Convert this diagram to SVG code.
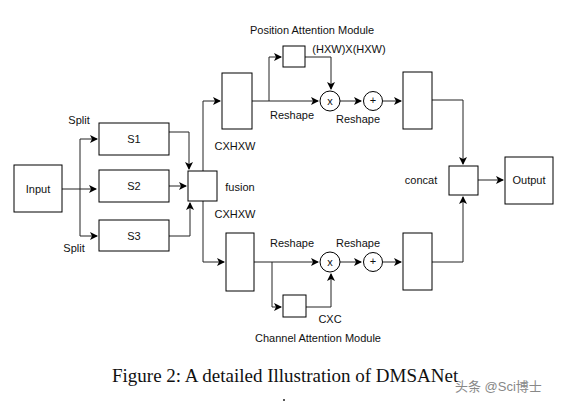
<svg xmlns="http://www.w3.org/2000/svg" width="563" height="405" viewBox="0 0 563 405">
<defs>
<marker id="ah" markerWidth="8" markerHeight="8" refX="7" refY="4" orient="auto" markerUnits="userSpaceOnUse">
<path d="M0,0 L8,4 L0,8 L2,4 Z" fill="#000"/>
</marker>
<style>
.box{fill:#fff;stroke:#000;stroke-width:1}
.ln{fill:none;stroke:#222;stroke-width:1}
.t{font-family:"Liberation Sans",Arial,sans-serif;font-size:11px;fill:#111;text-anchor:middle;dominant-baseline:central}
</style>
</defs>
<rect width="563" height="405" fill="#fff"/>
<g id="connectors">
<path class="ln" d="M62,189 H96" stroke-width="2" marker-end="url(#ah)"/>
<path class="ln" d="M80,189 V139 H97" marker-end="url(#ah)"/>
<path class="ln" d="M80,189 V236 H97" marker-end="url(#ah)"/>
<path class="ln" d="M169,132 H189 V169" marker-end="url(#ah)"/>
<path class="ln" d="M169,186 H186" marker-end="url(#ah)"/>
<path class="ln" d="M169,236 H190 V203" marker-end="url(#ah)"/>
<path class="ln" d="M203,171 V101 H220" marker-end="url(#ah)"/>
<path class="ln" d="M203,201 V262 H224" marker-end="url(#ah)"/>
<path class="ln" d="M252,101 H318" marker-end="url(#ah)"/>
<path class="ln" d="M269,101 V57 H281" marker-end="url(#ah)"/>
<path class="ln" d="M305,57 H331 V89" marker-end="url(#ah)"/>
<path class="ln" d="M340,101 H361" marker-end="url(#ah)"/>
<path class="ln" d="M383,101 H401" marker-end="url(#ah)"/>
<path class="ln" d="M254,262 H318" marker-end="url(#ah)"/>
<path class="ln" d="M272,262 V307 H281" marker-end="url(#ah)"/>
<path class="ln" d="M306,307 H331 V274" marker-end="url(#ah)"/>
<path class="ln" d="M340,262 H361" marker-end="url(#ah)"/>
<path class="ln" d="M383,262 H401" marker-end="url(#ah)"/>
<path class="ln" d="M432,100 H463 V164" marker-end="url(#ah)"/>
<path class="ln" d="M432,262 H463 V197" marker-end="url(#ah)"/>
<path class="ln" d="M478,180 H503" marker-end="url(#ah)"/>
</g>
<g id="input"><rect class="box" x="14" y="165" width="48" height="47"/><text class="t" x="38" y="189">Input</text></g>
<g id="s1"><rect class="box" x="99" y="123" width="70" height="32"/><text class="t" x="134" y="139">S1</text></g>
<g id="s2"><rect class="box" x="99" y="170" width="70" height="32"/><text class="t" x="134" y="186">S2</text></g>
<g id="s3"><rect class="box" x="99" y="220" width="70" height="31"/><text class="t" x="134" y="236">S3</text></g>
<g id="split-labels"><text class="t" x="79" y="120">Split</text><text class="t" x="74" y="248">Split</text></g>
<g id="fusion"><rect class="box" x="188" y="171" width="29" height="30"/><text class="t" x="240" y="187">fusion</text></g>
<g id="dims"><text class="t" x="235" y="146">CXHXW</text><text class="t" x="235" y="214">CXHXW</text></g>
<g id="pam-label"><text class="t" x="312" y="30">Position Attention Module</text></g>
<g id="pam-in"><rect class="box" x="222" y="73" width="30" height="56"/></g>
<g id="pam-small"><rect class="box" x="283" y="46" width="22" height="21"/><text class="t" x="349" y="49">(HXW)X(HXW)</text></g>
<g id="pam-mul"><circle class="box" cx="330" cy="101" r="10"/><text class="t" x="330" y="101" font-size="9">x</text></g>
<g id="pam-add"><circle class="box" cx="373" cy="101" r="9.5"/><text class="t" x="373" y="100" font-size="9">+</text></g>
<g id="pam-reshape"><text class="t" x="292" y="115">Reshape</text><text class="t" x="358" y="119">Reshape</text></g>
<g id="pam-out"><rect class="box" x="403" y="72" width="29" height="57"/></g>
<g id="cam-in"><rect class="box" x="226" y="233" width="28" height="58"/></g>
<g id="cam-small"><rect class="box" x="283" y="295" width="23" height="22"/><text class="t" x="330" y="319">CXC</text></g>
<g id="cam-mul"><circle class="box" cx="330" cy="262" r="10"/><text class="t" x="330" y="262" font-size="9">x</text></g>
<g id="cam-add"><circle class="box" cx="373" cy="262" r="9.5"/><text class="t" x="373" y="261" font-size="9">+</text></g>
<g id="cam-reshape"><text class="t" x="292" y="243">Reshape</text><text class="t" x="358" y="243">Reshape</text></g>
<g id="cam-label"><text class="t" x="318" y="338">Channel Attention Module</text></g>
<g id="cam-out"><rect class="box" x="403" y="233" width="29" height="57"/></g>
<g id="concat"><rect class="box" x="449" y="166" width="29" height="29"/><text class="t" x="421" y="180">concat</text></g>
<g id="output"><rect class="box" x="505" y="157" width="48" height="47"/><text class="t" x="529" y="180">Output</text></g>
<text x="112" y="382" font-family="'Liberation Serif','Times New Roman',serif" font-size="19" fill="#111">Figure 2: A detailed Illustration of DMSANet</text>
<text x="455" y="391" font-family="'Liberation Sans','Noto Sans CJK SC',sans-serif" font-size="13" fill="#888">头条 @Sci博士</text>
<circle cx="284" cy="400" r="1" fill="#222"/>
</svg>
